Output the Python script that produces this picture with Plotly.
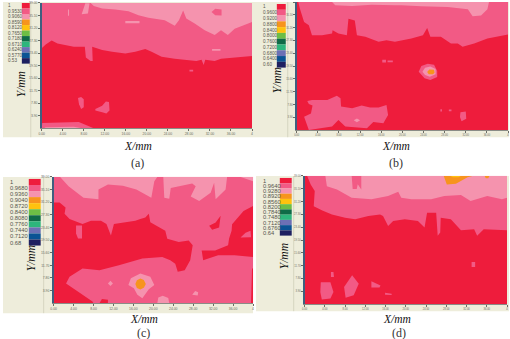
import plotly.graph_objects as go

W, H = 510, 339
RED, MID, LIGHT, ORANGE, YELLOW = "#EE1C3C", "#F25A85", "#F593AE", "#F7941D", "#FFC20E"
SWATCHES = [RED, MID, LIGHT, ORANGE, YELLOW, "#6DBE45", "#0F6B47", "#2DB67C", "#6C70B5", "#0B5394", "#1E2060"]
BEIGE, RULE, AXIS = "#EEEDDB", "#D6D5C0", "#3F5F7F"
TICK = "#6A6B62"

X_TICKS = [0, 4, 8, 12, 16, 20, 24, 28, 32, 36, 40]
X_LABELS = ["0.00", "4.00", "8.00", "12.00", "16.00", "20.00", "24.00", "28.00", "32.00", "36.00", "4"]
Y_TICKS = [3.9, 7.8, 11.7, 15.6, 19.5, 23.4, 27.3, 31.2, 35.1, 39.0]
Y_LABELS = ["3.90", "7.80", "11.70", "15.60", "19.50", "23.40", "27.30", "31.20", "35.10", "39.00"]

LEGEND_A = ["1", "0.9530", "0.9060", "0.8590", "0.8120", "0.7650", "0.7180", "0.6710", "0.6240", "0.5770", "0.53"]
LEGEND_B = ["1", "0.9600", "0.9200", "0.8800", "0.8400", "0.8000", "0.7600", "0.7200", "0.6800", "0.6400", "0.60"]
LEGEND_C = ["1", "0.9680", "0.9360", "0.9040", "0.8720", "0.8400", "0.8080", "0.7760", "0.7440", "0.7120", "0.68"]
LEGEND_D = ["1", "0.9640", "0.9280", "0.8920", "0.8560", "0.8200", "0.7840", "0.7480", "0.7120", "0.6760", "0.64"]

FULL = [(0, 0), (40, 0), (40, 39), (0, 39)]

# Panel (a): class regions in mm
A_MID = [(0, 39), (0, 24.9), (.76, 26.1), (1.9, 27.3), (3, 26.4), (4.5, 25.9), (6.1, 25.4), (8.2, 25.4), (8.4, 22), (9.3, 20.9), (9.7, 20.9), (9.6, 25.4), (11.5, 24.4), (13.4, 23.8), (15.9, 23.3), (17.8, 23.8), (19.7, 24.7), (20.9, 23.8), (22.8, 22.3), (25.3, 21.6), (27.8, 21.3), (29.4, 20.9), (30.4, 21.3), (30.8, 19.7), (31.1, 21.3), (32.9, 20.9), (34.1, 21.6), (36.7, 22), (40, 22.5), (40, 39)]
A_LIGHT = [(9.3, 39), (9.9, 38.1), (11.5, 37.3), (14, 37), (16.5, 36.4), (18.4, 35.2), (20.3, 34.4), (23.4, 33.6), (25.3, 31.9), (26.1, 33.6), (26.9, 36.7), (27.5, 34.2), (29.1, 32.6), (31, 30.5), (32.9, 29), (34.1, 30.5), (35.4, 29), (36.7, 31), (40, 33.1), (40, 39)]
A_BOTTOM_MID = [(0, 0), (.1, 1.65), (7.05, 1.96), (8.6, .93), (9.9, 0)]
A_BOTTOM_LIGHT = [(.4, 0), (.76, .3), (6.1, .5), (7.7, 0)]
A_BLOB_1 = [(6.9, 9.4), (7.5, 9.7), (8, 9), (8, 6.5), (7.5, 6), (7.1, 7.5)]
A_BLOB_2 = [(10.2, 6), (11.5, 7), (12.2, 8.3), (12.8, 8.2), (12.9, 5.5), (12.3, 4.6), (11.5, 5), (10.2, 5.5)]
A_BLOB_3 = [(28.1, 17.7), (28.8, 17.7), (28.8, 18.2), (28.1, 18.2)]
A_SPOT_1 = [(5, 35), (5.2, 35), (5.2, 37), (5, 37)]
A_SPOT_2 = [(15.9, 32.7), (18.6, 32.7), (18.6, 33.4), (15.9, 33.4)]
A_SPOT_3 = [(7.6, 35.5), (8.3, 38.9), (9.1, 38.9), (8.8, 35.7)]
A_SPOT_4 = [(32.3, 36.2), (33, 35.2), (34.2, 35.1), (34.2, 37), (33, 37.2)]
A_SPOT_5 = [(32.4, 24.1), (34, 24.1), (34, 24.7), (32.4, 24.7)]

# Panel (b)
B_MID = [(.3, 39), (.6, 37), (1.4, 32.9), (2.3, 31.9), (2.9, 28.9), (4.8, 28.9), (6.7, 29.4), (6.8, 30.4), (7.9, 29.4), (9.5, 28.9), (9.8, 33.9), (11, 33.4), (11.4, 28.9), (13, 28.4), (15.5, 26.9), (17, 27.4), (18.6, 26.9), (21.7, 27.9), (23.9, 28.9), (24.7, 31.1), (25.3, 28.4), (27.3, 28.4), (29.2, 26.4), (30.5, 26.4), (31.4, 25.4), (33.6, 26.4), (36.1, 27.9), (40, 29.1), (40, 39)]
B_LIGHT = [(6.7, 39), (7.3, 38), (10.5, 37.8), (14.2, 38.2), (18.6, 38), (19.8, 38), (23.6, 37.7), (28.6, 37.5), (32.4, 36.8), (33.3, 34.7), (34.9, 34.9), (36.1, 36.8), (36.4, 39)]
B_SPOT_MID = [(23.1, 17.8), (23.6, 19.5), (24.8, 20.2), (26, 19.9), (26.6, 18), (26.6, 16.2), (25.3, 15.3), (24.2, 15.8)]
B_SPOT_LIGHT = [(23.8, 17.8), (24.3, 19), (25.3, 19.4), (26.3, 18.6), (26.3, 17), (25.2, 16.3), (24.3, 16.8)]
B_SPOT_ORANGE = [(24.7, 17.7), (25.1, 18.5), (26, 18.4), (26.1, 17.5), (25.8, 17), (25, 17)]
B_SMALL_1 = [(16.2, 20.6), (16.9, 20.6), (16.9, 21.4), (16.2, 21.4)]
B_SMALL_2 = [(17.2, 20.7), (18.2, 20.7), (18.2, 21.2), (17.2, 21.2)]
B_LOWER = [(2, 8.9), (2.9, 9.2), (5.8, 9.2), (7.6, 10.5), (8.3, 9.7), (8.4, 7.2), (10.5, 6.7), (12.3, 7.5), (13.9, 6.9), (15.5, 6.9), (17, 7.7), (17.3, 4.6), (16.4, 2.1), (14.5, 2.5), (13.3, .6), (9.2, 1.1), (7.9, 3.1), (6.7, 1.1), (2.3, .1), (1.4, 4.1), (2.7, 5.1), (3, 7.5), (2.3, 8)]
B_LOWER_LIGHT = [(10.8, 3), (11.4, 3.6), (12, 3), (11.4, 2.4)]
B_LOWER_RIGHT = [(31, 5.5), (32, 5.7), (32.1, 3.5), (31.2, 2.7), (30.9, 4)]
B_SMALL_3 = [(27.2, 5.7), (27.5, 5.7), (27.5, 6.4), (27.2, 6.4)]
B_SMALL_4 = [(28.8, 5.8), (29.3, 5.8), (29.3, 6.3), (28.8, 6.3)]

# Panel (c): mid pink is the base class here
C_RED = [(0, 31.1), (1.2, 31.1), (2.4, 29.6), (2.2, 27.6), (3.2, 26), (4.8, 25), (5.8, 24.5), (7.5, 25.5), (9.5, 25.5), (10.6, 24.5), (11.5, 20.9), (12.1, 24.5), (16.4, 25.5), (17.4, 26), (18.4, 26.5), (19.1, 27.6), (19.4, 25), (22.4, 22.4), (22.8, 19.9), (25.1, 18.9), (27.1, 19.4), (27.9, 17.9), (27.4, 13.3), (26.3, 10.2), (24.9, 9.7), (24.4, 12.2), (23.4, 13.3), (21.8, 14.3), (17.8, 13.8), (13.1, 11.7), (9.2, 10.2), (5.8, 10.7), (3.2, 8.2), (2.5, 6.1), (5.8, 2.6), (7.8, .5), (8, 0), (0, 0)]
C_RED_HOLE = [(4.5, 24), (5.7, 24), (5.7, 20), (4.9, 20), (4.5, 21.5)]
C_RED_RIGHT = [(40, 30), (38.1, 28.5), (35.8, 24.4), (35.7, 22.4), (35.2, 20), (35, 17.9), (32.4, 16.3), (29.7, 16.3), (30, 13.3), (33, 14.8), (36.3, 14.8), (40, 14.3)]
C_RIGHT_HOLE = [(37.5, 20.3), (38.5, 21.8), (39.5, 22.4), (39.6, 20.4)]
C_RED_SMALL = [(31.2, 23.9), (32.5, 24.9), (33.5, 27), (33.2, 23.4), (31.8, 22.7)]
C_RED_EDGE = [(39.8, 10.7), (40, 10.7), (40, 0), (39.6, 0)]
C_RED_FOOT = [(9.2, 0), (9.7, 1.3), (10.9, 1.1), (10.9, 0)]
C_LIGHT_1 = [(1.3, 39), (3, 36.1), (6, 32.6), (9, 32.1), (9, 35.1), (10.9, 36.7), (13.9, 36.3), (16.6, 35.1), (19.6, 32.6), (20.2, 37.7), (20.8, 39)]
C_LIGHT_2 = [(22, 39), (22.2, 32.6), (23.2, 32.3), (23.5, 35.6), (27.8, 37), (28.5, 36.1), (27.5, 33), (29.2, 31.6), (31.5, 34.1), (32.2, 37.2), (32.5, 32.1), (34.5, 35.1), (34.8, 39)]
C_LIGHT_3 = [(37.5, 39), (40, 37.7), (40, 39)]
C_LIGHT_SPOT = [(15, 5.6), (15.5, 7.7), (17.4, 9.2), (19.4, 8.2), (20.2, 5.6), (19.1, 4.3), (17.8, 1.5), (16.8, 2.6), (16.1, 4.6)]
C_ORANGE_SPOT = [(16.4, 5.9), (16.7, 7.1), (17.4, 7.6), (18.1, 7.2), (18.5, 5.9), (18.1, 4.8), (17.4, 4.2), (16.7, 4.7)]
C_LIGHT_DOT = [(10.9, 6.1), (11.4, 6.9), (11.9, 6.1), (11.4, 5.3)]
C_LIGHT_FOOT = [(20.8, 0), (21, 1.8), (21.9, 2.3), (23, 1.6), (23.2, 0)]
C_LIGHT_DOT_2 = [(27.8, 2.6), (28.4, 3.8), (29, 3.4), (28.9, 2.4)]

# Panel (d)
D_MID = [(.5, 39), (1.2, 36.4), (2, 34.4), (1.8, 29.8), (3.5, 28.5), (5.4, 27.3), (8, 26.3), (10, 25.8), (12.6, 26.8), (14.9, 27.3), (15.5, 26.8), (16.5, 23.8), (17.5, 25.3), (19.8, 25.8), (22.4, 25.3), (23.7, 23.3), (24.2, 27.8), (26, 27.8), (26.3, 20.8), (26.8, 21.8), (26.9, 26.3), (28.9, 25.8), (30.9, 22.5), (33.5, 22.8), (34.1, 20.8), (35.4, 22.8), (40, 22.5), (40, 39)]
D_RED_NOTCH = [(24.3, 27.4), (25.6, 27.4), (25.8, 23.5), (24.6, 22.5), (24.2, 24)]
D_LIGHT = [(4.1, 39), (4.4, 35.9), (6.4, 34.9), (9.3, 32.4), (13.2, 31.9), (16.5, 32.9), (18.5, 34.2), (19.1, 32.4), (21.1, 31.9), (25, 31.9), (27.6, 32.9), (30.9, 33.2), (32.8, 31.4), (36.1, 32.9), (39, 31.9), (40, 32.4), (40, 39)]
D_LIGHT_GAP = [(9.3, 39), (9.5, 35), (10.3, 35), (10.5, 36.5), (11.2, 34.9), (11.2, 39)]
D_ORANGE = [(27.5, 39), (28.1, 36.4), (29.9, 36.6), (32.2, 38.6), (33.2, 39)]
D_ORANGE_2 = [(35.6, 39), (35.8, 38.3), (36.3, 38.3), (36.5, 39)]
D_YELLOW = [(28.8, 39), (29.3, 38.6), (30.4, 38.6), (30.9, 39)]
D_LOW_1 = [(3.2, 6.7), (5.1, 6.7), (5.7, 3.7), (5.1, 1.7), (3.4, 1.4), (3.1, 3.7)]
D_LOW_2 = [(7.8, 5.2), (9.4, 8.8), (10.7, 6.2), (9.7, 2.7), (8.1, 2)]
D_LOW_3 = [(13.2, 7), (15, 5.7), (14.8, 5.1), (13.2, 5.1)]
D_LOW_4 = [(5.2, 9.8), (5.7, 9.8), (5.8, 8.3), (5.2, 8.3)]
D_LOW_5 = [(15.9, 3.5), (17.2, 3.2), (17.2, 2.8), (15.9, 2.9)]
D_LOW_6 = [(33, 12.8), (33.7, 12.8), (33.7, 11.3), (33, 11.3)]

PANELS = [
    {"px": (39, 251, 1, 127), "bg": (0, 255, 0, 136), "rule": 28, "legend": LEGEND_A, "sw": (19, 27, 1, 62), "lab": 3.5, "fs": 4.6,
     "xt": (136, 145), "yt": (18, 83), "cap": ("(a)", 136, 162),
     "layers": [(FULL, RED), (A_MID, MID), (A_LIGHT, LIGHT), (A_SPOT_1, LIGHT), (A_SPOT_2, LIGHT), (A_SPOT_3, LIGHT), (A_SPOT_4, MID), (A_SPOT_5, LIGHT),
                (A_BOTTOM_MID, MID), (A_BOTTOM_LIGHT, LIGHT), (A_BLOB_1, MID), (A_BLOB_2, MID), (A_BLOB_3, MID)]},
    {"px": (296, 509, 0, 129), "bg": (255, 510, 0, 136), "rule": 287, "legend": LEGEND_B, "sw": (276, 285, 2, 66), "lab": 260, "fs": 4.6,
     "xt": (396, 145), "yt": (276, 79), "cap": ("(b)", 396, 162),
     "layers": [(FULL, RED), (B_MID, MID), (B_LIGHT, LIGHT), (B_SPOT_MID, MID), (B_SPOT_LIGHT, LIGHT), (B_SPOT_ORANGE, ORANGE), (B_SMALL_1, MID), (B_SMALL_2, MID),
                (B_LOWER, MID), (B_LOWER_LIGHT, LIGHT), (B_LOWER_RIGHT, MID), (B_SMALL_3, MID), (B_SMALL_4, MID)]},
    {"px": (51, 252, 176, 303), "bg": (0, 252, 176, 313), "rule": 41, "legend": LEGEND_C, "sw": (26, 38, 178, 245), "lab": 5.5, "fs": 5.8,
     "xt": (142, 319), "yt": (29, 258), "cap": ("(c)", 142, 333),
     "layers": [(FULL, MID), (C_RED, RED), (C_RED_HOLE, MID), (C_RED_RIGHT, RED), (C_RIGHT_HOLE, MID), (C_RED_SMALL, RED), (C_RED_EDGE, RED), (C_RED_FOOT, RED),
                (C_LIGHT_1, LIGHT), (C_LIGHT_2, LIGHT), (C_LIGHT_3, LIGHT), (C_LIGHT_SPOT, LIGHT), (C_ORANGE_SPOT, ORANGE), (C_LIGHT_DOT, LIGHT), (C_LIGHT_FOOT, LIGHT), (C_LIGHT_DOT_2, LIGHT)]},
    {"px": (304, 508, 175, 304), "bg": (255, 510, 175, 311), "rule": 293, "legend": LEGEND_D, "sw": (279, 291, 177, 235), "lab": 260, "fs": 5.8,
     "xt": (397, 319), "yt": (284, 256), "cap": ("(d)", 399, 333),
     "layers": [(FULL, RED), (D_MID, MID), (D_RED_NOTCH, RED), (D_LIGHT, LIGHT), (D_LIGHT_GAP, MID), (D_ORANGE, ORANGE), (D_ORANGE_2, ORANGE), (D_YELLOW, YELLOW),
                (D_LOW_1, MID), (D_LOW_2, MID), (D_LOW_3, MID), (D_LOW_4, MID), (D_LOW_5, MID), (D_LOW_6, MID)]},
]

fig = go.Figure()
shapes, annotations = [], []
layout_axes = {}


def fx(v):
    return v / W


def fy(v):
    return 1 - v / H


for i, p in enumerate(PANELS, start=1):
    sfx = "" if i == 1 else str(i)
    x0, x1, y0, y1 = p["px"]
    tick_size = 3.4 if i in (1, 3) else 2.6
    layout_axes["xaxis" + sfx] = dict(
        domain=[fx(x0), fx(x1)], range=[0, 40], anchor="y" + sfx, tickvals=X_TICKS, ticktext=X_LABELS,
        tickfont=dict(size=tick_size, family="Liberation Sans", color=TICK), ticks="outside", ticklen=1.5, tickwidth=0.5,
        tickcolor=TICK, showgrid=False, zeroline=False, showline=True, linecolor="#8A8C86", linewidth=1, tickangle=0)
    layout_axes["yaxis" + sfx] = dict(
        domain=[fy(y1), fy(y0)], range=[0, 39], anchor="x" + sfx, tickvals=Y_TICKS, ticktext=Y_LABELS,
        tickfont=dict(size=tick_size, family="Liberation Sans", color=TICK), ticks="outside", ticklen=1.5, tickwidth=0.5,
        tickcolor=TICK, showgrid=False, zeroline=False, showline=True, linecolor=AXIS, linewidth=2)
    for pts, col in p["layers"]:
        fig.add_trace(go.Scatter(
            x=[q[0] for q in pts] + [pts[0][0]], y=[q[1] for q in pts] + [pts[0][1]],
            mode="lines", fill="toself", fillcolor=col, line=dict(width=0, color=col),
            hoverinfo="skip", showlegend=False, xaxis="x" + sfx, yaxis="y" + sfx))
    bx0, bx1, by0, by1 = p["bg"]
    shapes.append(dict(type="rect", xref="paper", yref="paper", x0=fx(bx0), x1=fx(bx1), y0=fy(by1), y1=fy(by0),
                       fillcolor=BEIGE, line=dict(width=0), layer="below"))
    shapes.append(dict(type="line", xref="paper", yref="paper", x0=fx(p["rule"]), x1=fx(p["rule"]), y0=fy(by1), y1=fy(by0),
                       line=dict(width=1, color=RULE), layer="below"))
    sx0, sx1, sy0, sy1 = p["sw"]
    step = (sy1 - sy0) / len(SWATCHES)
    for j, (col, lab) in enumerate(zip(SWATCHES, p["legend"])):
        shapes.append(dict(type="rect", xref="paper", yref="paper", x0=fx(sx0), x1=fx(sx1),
                           y0=fy(sy0 + step * (j + 1)), y1=fy(sy0 + step * j), fillcolor=col, line=dict(width=0), layer="below"))
        annotations.append(dict(text=lab, xref="paper", yref="paper", x=fx(p["lab"]), y=fy(sy0 + step * (j + 0.5)),
                                xanchor="left", yanchor="middle", showarrow=False,
                                font=dict(size=p["fs"], family="Liberation Sans", color="#55554C")))
    annotations.append(dict(text="<i>X/mm</i>", xref="paper", yref="paper", x=fx(p["xt"][0]), y=fy(p["xt"][1]),
                            xanchor="center", yanchor="middle", showarrow=False,
                            font=dict(size=11.5, family="Liberation Serif", color="#111")))
    annotations.append(dict(text="<i>Y/mm</i>", xref="paper", yref="paper", x=fx(p["yt"][0]), y=fy(p["yt"][1]),
                            xanchor="center", yanchor="middle", showarrow=False, textangle=-90,
                            font=dict(size=11.5, family="Liberation Serif", color="#111")))
    annotations.append(dict(text=p["cap"][0], xref="paper", yref="paper", x=fx(p["cap"][1]), y=fy(p["cap"][2]),
                            xanchor="center", yanchor="middle", showarrow=False,
                            font=dict(size=12, family="Liberation Serif", color="#333")))

fig.update_layout(width=W, height=H, margin=dict(l=0, r=0, t=0, b=0), paper_bgcolor="white", plot_bgcolor=RED,
                  showlegend=False, shapes=shapes, annotations=annotations, **layout_axes)
fig.write_html("out.html", config={"displayModeBar": False},
               post_script="document.body.style.margin='0';document.body.style.overflow='hidden';")
